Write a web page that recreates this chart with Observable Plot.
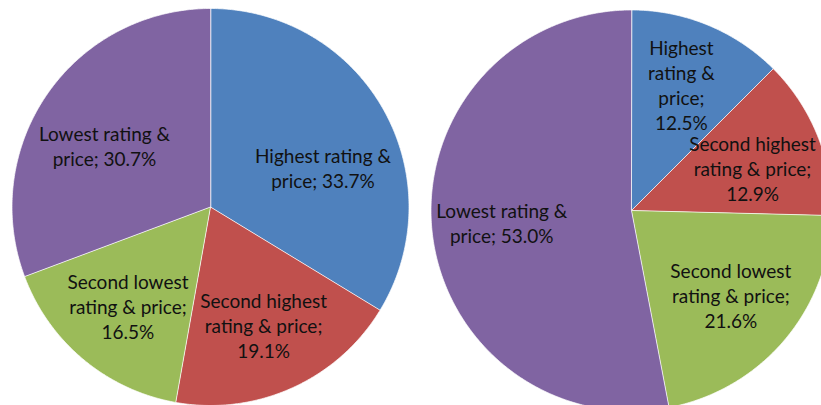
<!DOCTYPE html>
<html>
<head>
<meta charset="utf-8">
<script src="https://cdn.jsdelivr.net/npm/d3@7"></script>
<script src="https://cdn.jsdelivr.net/npm/@observablehq/plot@0.6"></script>
<style>
  html, body { margin: 0; padding: 0; background: #fff; }
  #chart svg { display: block; }
</style>
</head>
<body>
<div id="chart"></div>
<script>
// ---- Data ----
const categories = [
  "Highest rating & price",
  "Second highest rating & price",
  "Second lowest rating & price",
  "Lowest rating & price"
];
const leftValues = [33.7, 19.1, 16.5, 30.7];
const rightValues = [12.5, 12.9, 21.6, 53.0];
// label wording as wrapped in the reference (text only)
const leftNames = ["Highest rating &\nprice;", "Second highest\nrating & price;", "Second lowest\nrating & price;", "Lowest rating &\nprice;"];
const leftSeps = [" ", "\n", "\n", " "];
const rightNames = ["Highest\nrating &\nprice;", "Second highest\nrating & price;", "Second lowest\nrating & price;", "Lowest rating &\nprice;"];
const rightSeps = ["\n", "\n", "\n", " "];
const colors = ["#4F81BD", "#C0504D", "#9BBB59", "#8064A2"];

// ---- Layout ----
const W = 821, H = 405;
const FS = 19, LH = 25, FONT = "Lato, 'Open Sans', sans-serif";
const pies = [
  {id: "left", values: leftValues, names: leftNames, seps: leftSeps, cx: 210, cy: 206.5, r: 198.5, lf: 0.65, pad: 8},
  {id: "right", values: rightValues, names: rightNames, seps: rightSeps, cx: 631, cy: 210, r: 200.5, lf: 0.65, pad: -12}
];

const ctx = document.createElement("canvas").getContext("2d");
ctx.font = `${FS}px Lato`;

function lineBoxes(lbl) {
  const lines = lbl.text.split("\n");
  const n = lines.length;
  return lines.map((s, j) => {
    const w = ctx.measureText(s).width;
    const yc = lbl.y + (j - (n - 1) / 2) * LH;
    return {x0: lbl.x - w / 2, x1: lbl.x + w / 2, y0: yc - 9, y1: yc + 7, yc};
  });
}

// keep every text line of a label inside the circle (best-fit style placement)
function fitInside(lbl, p) {
  const limit = p.r - p.pad;
  const vertical = Math.abs(lbl.y - p.cy) > 40;
  const dir = vertical ? (lbl.y < p.cy ? 1 : -1) : (lbl.x < p.cx ? 1 : -1);
  const fits = () => lineBoxes(lbl).every(b =>
    [b.y0, b.y1].every(yy => [b.x0, b.x1].every(xx => Math.hypot(xx - p.cx, yy - p.cy) <= limit)));
  let steps = 0;
  while (!fits() && steps < 120) {
    if (vertical) lbl.y += dir * 0.5; else lbl.x += dir * 0.5;
    steps++;
  }
}

// push apart labels whose lines collide
function separate(group) {
  const minGap = 21;
  for (let iter = 0; iter < 50; iter++) {
    let moved = false;
    for (let i = 0; i < group.length; i++) for (let j = i + 1; j < group.length; j++) {
      const A = group[i], B = group[j];
      const top = A.y <= B.y ? A : B, bot = A.y <= B.y ? B : A;
      let deficit = 0;
      for (const a of lineBoxes(top)) for (const b of lineBoxes(bot)) {
        if (Math.min(a.x1, b.x1) - Math.max(a.x0, b.x0) > 0) {
          deficit = Math.max(deficit, minGap - (b.yc - a.yc));
        }
      }
      if (deficit > 0.01) { top.y -= deficit / 2; bot.y += deficit / 2; moved = true; }
    }
    if (!moved) break;
  }
}

const slicePts = [];
const labels = [];
for (const p of pies) {
  const arcs = d3.pie().sort(null).value(d => d)(p.values);
  const group = [];
  arcs.forEach((a, i) => {
    const key = p.id + i;
    const cat = categories[i];
    slicePts.push({key, cat, x: p.cx, y: p.cy});
    const n = Math.max(2, Math.ceil((a.endAngle - a.startAngle) / (Math.PI / 360)));
    for (let k = 0; k <= n; k++) {
      const t = a.startAngle + (a.endAngle - a.startAngle) * k / n;
      slicePts.push({key, cat, x: p.cx + p.r * Math.sin(t), y: p.cy - p.r * Math.cos(t)});
    }
    const m = (a.startAngle + a.endAngle) / 2;
    const lbl = {
      x: p.cx + p.lf * p.r * Math.sin(m),
      y: p.cy - p.lf * p.r * Math.cos(m),
      text: p.names[i] + p.seps[i] + p.values[i].toFixed(1) + "%"
    };
    fitInside(lbl, p);
    group.push(lbl);
  });
  separate(group);
  labels.push(...group);
}

const chart = Plot.plot({
  width: W,
  height: H,
  margin: 0,
  x: {type: "identity", axis: null},
  y: {type: "identity", axis: null},
  color: {domain: categories, range: colors},
  style: {background: "#fff", fontFamily: FONT},
  marks: [
    Plot.line(slicePts, {
      x: "x", y: "y", z: "key", fill: "cat",
      stroke: "#fff", strokeWidth: 1, strokeOpacity: 0.7,
      curve: "linear-closed"
    }),
    Plot.text(labels, {
      x: "x", y: "y", text: "text",
      fontSize: FS, lineHeight: LH / FS,
      fill: "#111", textAnchor: "middle", lineAnchor: "middle"
    })
  ]
});
document.getElementById("chart").appendChild(chart);
</script>
</body>
</html>
